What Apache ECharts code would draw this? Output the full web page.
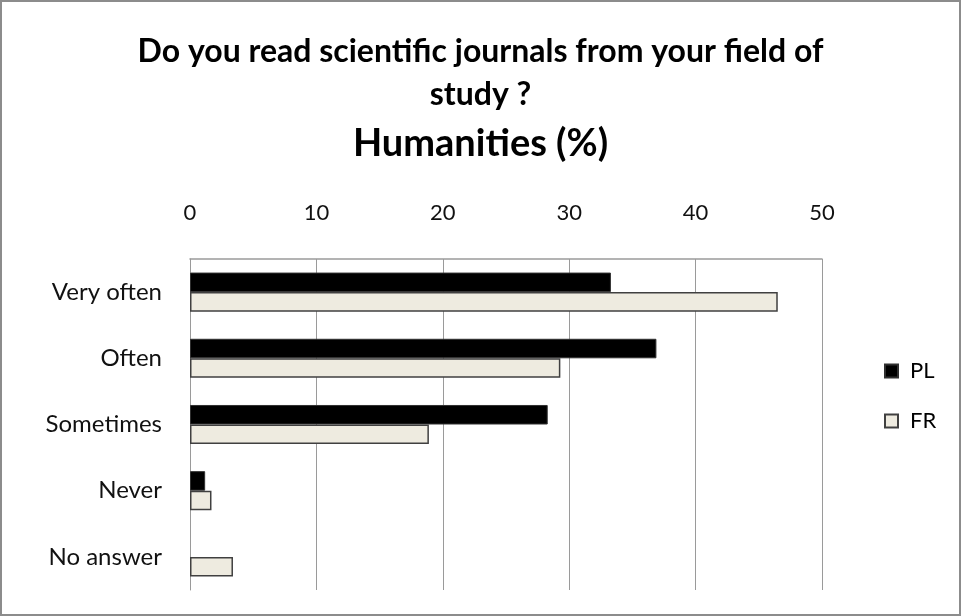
<!DOCTYPE html>
<html><head><meta charset="utf-8">
<script src="https://cdn.jsdelivr.net/npm/echarts@6/dist/echarts.min.js"></script>
<style>
html,body{margin:0;padding:0;background:#fff;}
#frame{position:absolute;left:0;top:0;width:957px;height:612px;border:2px solid #8c8c8c;}
#c{position:absolute;left:0;top:0;width:961px;height:616px;}
</style></head>
<body><div id="frame"></div><div id="c"></div>
<script>
const categories = ["Very often", "Often", "Sometimes", "Never", "No answer"];
const seriesNames = ["PL", "FR"];
const plValues = [33.3, 36.9, 28.3, 1.2, 0];
const frValues = [46.5, 29.3, 18.9, 1.7, 3.4];
const titleText = "Do you read scientific journals from your field of\nstudy ?";
const subTitleText = "Humanities (%)";

const FONT = "Lato";
const chart = echarts.init(document.getElementById('c'));
chart.setOption({
  animation: false,
  title: {
    left: 'center', top: 25, itemGap: 8,
    text: titleText,
    subtext: subTitleText,
    textStyle: {fontFamily: FONT, fontSize: 32, fontWeight: 'bold', color: '#000', lineHeight: 43},
    subtextStyle: {fontFamily: FONT, fontSize: 38, fontWeight: 'bold', color: '#000', lineHeight: 40}
  },
  legend: {
    orient: 'vertical', left: 879, top: 355, itemGap: 28,
    itemWidth: 13, itemHeight: 13, icon: 'rect',
    textStyle: {fontFamily: FONT, fontSize: 22, color: '#000', padding: [0,0,0,7]},
    data: seriesNames
  },
  grid: {left: 190, right: 139, top: 259, bottom: 26},
  xAxis: {
    type: 'value', position: 'top', min: 0, max: 50, interval: 10,
    axisLine: {show: true, lineStyle: {color: '#9a9a9a', width: 1.5}}, axisTick: {show: false},
    axisLabel: {fontFamily: FONT, fontSize: 22, color: '#111', margin: 35},
    splitLine: {show: true, lineStyle: {color: '#9a9a9a', width: 1}}
  },
  yAxis: {
    type: 'category', inverse: true, data: categories,
    axisLine: {show: true, lineStyle: {color: '#9a9a9a'}},
    axisTick: {show: false},
    axisLabel: {fontFamily: FONT, fontSize: 24, color: '#111', margin: 28}
  },
  series: [
    {name: seriesNames[0], type: 'bar', barCategoryGap: '41%', barGap: '0%',
     data: plValues.map(v => v === 0 ? {value: v, itemStyle: {borderWidth: 0}} : v),
     itemStyle: {color: '#000', borderColor: '#303030', borderWidth: 1}},
    {name: seriesNames[1], type: 'bar', data: frValues,
     itemStyle: {color: '#EEEBE0', borderColor: '#404040', borderWidth: 1.5}}
  ]
});
</script></body></html>
